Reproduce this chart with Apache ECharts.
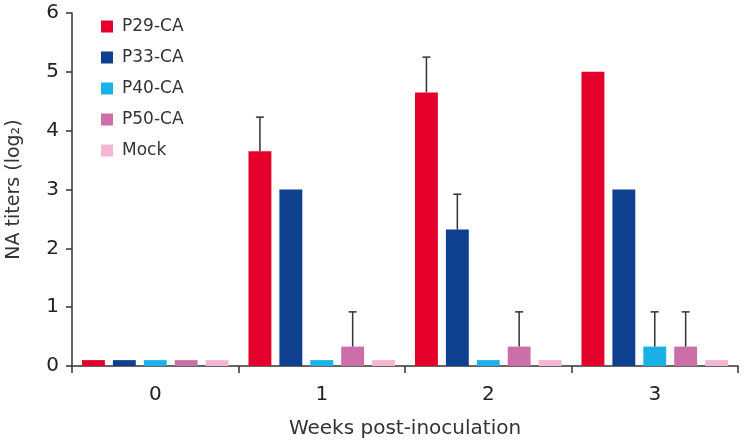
<!DOCTYPE html>
<html><head><meta charset="utf-8">
<script src="https://cdn.jsdelivr.net/npm/echarts@6/dist/echarts.min.js"></script>
<style>html,body{margin:0;padding:0;background:#fff}#c{width:744px;height:443px}</style>
</head><body><div id="c"></div>
<script>
const categories = ['0', '1', '2', '3'];
const seriesNames = ['P29-CA', 'P33-CA', 'P40-CA', 'P50-CA', 'Mock'];
const p29 = [0.1, 3.65, 4.65, 5.0];
const p33 = [0.1, 3.0, 2.32, 3.0];
const p40 = [0.1, 0.1, 0.1, 0.33];
const p50 = [0.1, 0.33, 0.33, 0.33];
const mock = [0.1, 0.1, 0.1, 0.1];
// upper error (added on top of value); null = no error bar
const p29Err = [null, 0.58, 0.6, null];
const p33Err = [null, null, 0.6, null];
const p40Err = [null, null, null, 0.59];
const p50Err = [null, 0.59, 0.59, 0.59];
const mockErr = [null, null, null, null];
const yTicks = [0, 1, 2, 3, 4, 5, 6];

const colors = ['#E4002B', '#0F3F8F', '#1BB1E7', '#CC6FA8', '#F4B6D2'];
const values = [p29, p33, p40, p50, mock];
const errs = [p29Err, p33Err, p40Err, p50Err, mockErr];
const CAT_GAP = 0.12, BAR_GAP = 0.35, N = 5;
const FONT = 'DejaVu Sans';

const chart = echarts.init(document.getElementById('c'));
const series = [];
values.forEach((v, i) => {
  series.push({
    name: seriesNames[i], type: 'bar', data: v,
    itemStyle: { color: colors[i] },
    barCategoryGap: (CAT_GAP * 100) + '%', barGap: (BAR_GAP * 100) + '%'
  });
});
values.forEach((v, i) => {
  const data = [];
  v.forEach((val, k) => { if (errs[i][k] != null) data.push([k, val, val + errs[i][k]]); });
  series.push({
    type: 'custom', name: seriesNames[i] + ' err', z: 5,
    data: data,
    encode: { x: 0, y: [1, 2] },
    renderItem: function (params, api) {
      const band = api.size([1, 0])[0];
      const usable = band * (1 - CAT_GAP);
      const bw = usable / (N + (N - 1) * BAR_GAP);
      const off = -usable / 2 + i * bw * (1 + BAR_GAP) + bw / 2;
      const p0 = api.coord([api.value(0), api.value(1)]);
      const p1 = api.coord([api.value(0), api.value(2)]);
      const x = p0[0] + off;
      const cap = 4;
      const st = { stroke: '#333', lineWidth: 1.5 };
      return { type: 'group', children: [
        { type: 'line', shape: { x1: x, y1: p0[1], x2: x, y2: p1[1] }, style: st },
        { type: 'line', shape: { x1: x - cap, y1: p1[1], x2: x + cap, y2: p1[1] }, style: st }
      ]};
    }
  });
});

chart.setOption({
  animation: false,
  backgroundColor: '#fff',
  grid: { left: 72, right: 6, top: 13, bottom: 77, containLabel: false, outerBoundsMode: 'none' },
  legend: {
    data: seriesNames, orient: 'vertical', left: 96, top: 13,
    itemWidth: 12, itemHeight: 12, itemGap: 14, icon: 'rect',
    textStyle: { fontSize: 17, color: '#333', fontFamily: FONT, padding: [0, 0, 0, 4] }
  },
  xAxis: {
    type: 'category', data: categories,
    name: 'Weeks post-inoculation', nameLocation: 'middle', nameGap: 53,
    nameTextStyle: { fontSize: 20, color: '#333', fontFamily: FONT },
    axisLine: { lineStyle: { color: '#333', width: 1.5 } },
    axisTick: { show: true, length: 7, lineStyle: { color: '#333', width: 1.5 } },
    axisLabel: { fontSize: 20, color: '#222', margin: 19, fontFamily: FONT }
  },
  yAxis: {
    type: 'value', min: 0, max: 6, interval: 1,
    name: 'NA titers (log₂)', nameLocation: 'middle', nameGap: 48,
    nameTextStyle: { fontSize: 19, color: '#333', fontFamily: FONT },
    axisLine: { show: true, lineStyle: { color: '#333', width: 1.5 } },
    axisTick: { show: true, length: 6, lineStyle: { color: '#333', width: 1.5 } },
    splitLine: { show: false },
    axisLabel: { fontSize: 20, color: '#222', margin: 13, fontFamily: FONT,
      formatter: v => yTicks.includes(v) ? String(v) : '' }
  },
  series: series
});
</script></body></html>
